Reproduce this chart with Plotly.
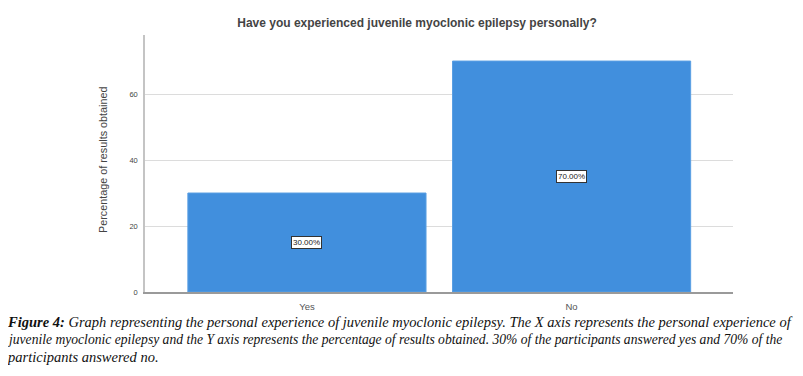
import plotly.graph_objects as go

categories = ["Yes", "No"]
percentages = [30.0, 70.0]
value_labels = ["30.00%", "70.00%"]
y_ticks = [0, 20, 40, 60]

title_text = "Have you experienced juvenile myoclonic epilepsy personally?"
y_title = "Percentage of results obtained"
caption_lines = [
    "<b>Figure 4:</b> Graph representing the personal experience of juvenile myoclonic epilepsy. The X axis represents the personal experience of",
    "juvenile myoclonic epilepsy and the Y axis represents the percentage of results obtained. 30% of the participants answered yes and 70% of the",
    "participants answered no.",
]
caption_sizes = [14.5, 13.6, 14.5]

OFF = 8  # page body margin offset
W, H = 803 - OFF, 376 - OFF
L, R, T, B = 145 - OFF, 733 - OFF, 35 - OFF, 292 - OFF  # plot area in figure pixels

def px_x(px):
    return (px - OFF - L) / (R - L)

def px_y(py):
    return (B - (py - OFF)) / (B - T)

fig = go.Figure()
fig.add_trace(go.Bar(
    x=categories, y=percentages, width=0.9,
    marker=dict(color="#418fdd", line=dict(color="#5a9fe3", width=1)),
    hoverinfo="skip",
))

annotations = []
for c, v, t in zip(categories, percentages, value_labels):
    annotations.append(dict(
        x=c, y=v / 2, xref="x", yref="y", text=t, showarrow=False,
        font=dict(family="Arial, Liberation Sans", size=8, color="#222"),
        bgcolor="white", bordercolor="#333", borderwidth=1, borderpad=1,
    ))

annotations.append(dict(
    x=px_x(103), y=px_y(160), xref="paper", yref="paper", text=y_title,
    textangle=-90, showarrow=False, xanchor="center", yanchor="middle",
    font=dict(family="Arial, Liberation Sans", size=10.8, color="#444"),
))

caption_y = [322, 339.5, 357]
for line, py, fs in zip(caption_lines, caption_y, caption_sizes):
    annotations.append(dict(
        x=px_x(5), y=px_y(py), xref="paper", yref="paper",
        text="<i>" + line + "</i>", showarrow=False,
        xanchor="left", yanchor="middle", align="left",
        font=dict(family="Liberation Serif, Times New Roman", size=fs, color="#111"),
    ))

fig.update_layout(
    width=W, height=H, autosize=False,
    margin=dict(l=L, r=W - R, t=T, b=H - B, pad=0),
    paper_bgcolor="white", plot_bgcolor="white",
    showlegend=False,
    title=dict(
        text="<b>" + title_text + "</b>",
        x=(417 - OFF) / W, xref="container", xanchor="center",
        y=1 - (23 - OFF) / H, yref="container", yanchor="middle",
        font=dict(family="Arial, Liberation Sans", size=12, color="#444"),
    ),
    xaxis=dict(
        range=[-0.612, 1.61], showgrid=False, zeroline=False,
        showline=True, linecolor="#9a9a9a", linewidth=2,
        ticks="", ticklabelstandoff=5,
        tickfont=dict(family="Arial, Liberation Sans", size=9.5, color="#555"),
    ),
    yaxis=dict(
        range=[0, 77.9], tickvals=y_ticks, showgrid=True,
        gridcolor="#dcdcdc", gridwidth=1, zeroline=False,
        showline=True, linecolor="#c4c4c4", linewidth=1.5,
        ticks="", ticklabelstandoff=4,
        tickfont=dict(family="Arial, Liberation Sans", size=7.5, color="#444"),
    ),
    annotations=annotations,
)

fig.write_html("out.html")
